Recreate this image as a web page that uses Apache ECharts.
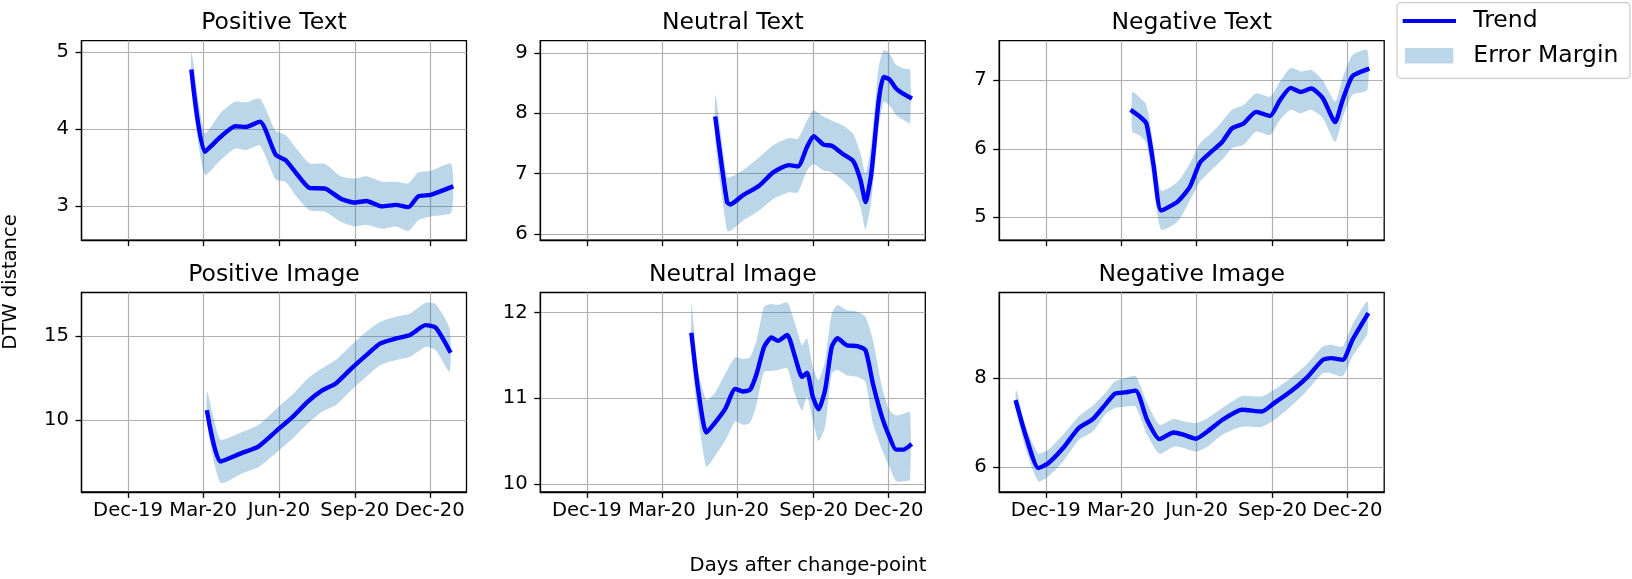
<!DOCTYPE html>
<html>
<head>
<meta charset="utf-8">
<title>DTW distance</title>
<script src="https://cdn.jsdelivr.net/npm/echarts@6/dist/echarts.min.js"></script>
<style>
  html, body { margin: 0; padding: 0; background: #fff; }
  #chart { width: 1632px; height: 579px; }
</style>
</head>
<body>
<div id="chart"></div>
<script>
// shared date axis
var tickDates = ['2019-12-01', '2020-03-01', '2020-06-01', '2020-09-01', '2020-12-01'];
var tickLabels = ['Dec-19', 'Mar-20', 'Jun-20', 'Sep-20', 'Dec-20'];
var panelTitles = ['Positive Text', 'Neutral Text', 'Negative Text', 'Positive Image', 'Neutral Image', 'Negative Image'];

// Positive Text
var posTextDates = ['2020-02-16','2020-03-03','2020-03-22','2020-04-09','2020-04-22','2020-05-09','2020-05-28','2020-06-09','2020-06-22','2020-07-08','2020-07-27','2020-08-15','2020-09-01','2020-09-15','2020-10-04','2020-10-21','2020-11-05','2020-11-17','2020-12-02','2020-12-27'];
var posTextTrend = [4.75,3.71,3.90,4.04,4.03,4.10,3.67,3.60,3.43,3.24,3.23,3.10,3.05,3.07,3.00,3.02,2.99,3.13,3.15,3.25];
var posTextUpper = [5.00,3.95,4.21,4.36,4.35,4.40,3.98,3.93,3.75,3.56,3.55,3.39,3.36,3.39,3.32,3.32,3.30,3.44,3.46,3.55];
var posTextLower = [4.50,3.41,3.60,3.75,3.73,3.79,3.35,3.32,3.13,2.95,2.93,2.80,2.74,2.76,2.71,2.74,2.68,2.82,2.87,2.92];
var posTextTicks = [3, 4, 5];

// Neutral Text
var neuTextDates = ['2020-05-05','2020-05-19','2020-05-23','2020-06-07','2020-06-27','2020-07-14','2020-08-02','2020-08-13','2020-08-24','2020-09-01','2020-09-13','2020-09-23','2020-10-06','2020-10-19','2020-10-28','2020-11-03','2020-11-10','2020-11-19','2020-11-25','2020-12-02','2020-12-10','2020-12-19','2020-12-27'];
var neuTextTrend = [7.91,6.53,6.49,6.64,6.80,7.02,7.14,7.12,7.44,7.62,7.48,7.46,7.33,7.21,6.89,6.53,7.00,8.21,8.60,8.56,8.41,8.32,8.26];
var neuTextUpper = [8.30,6.94,6.94,7.05,7.27,7.47,7.59,7.58,7.88,8.05,7.94,7.88,7.80,7.66,7.33,7.00,7.49,8.77,9.04,8.99,8.80,8.74,8.72];
var neuTextLower = [7.50,6.06,6.05,6.22,6.39,6.58,6.69,6.69,7.05,7.16,7.05,7.02,6.89,6.72,6.44,6.08,6.55,7.77,8.19,8.13,7.97,7.89,7.83];
var neuTextTicks = [6, 7, 8, 9];

// Negative Text
var negTextDates = ['2020-03-15','2020-03-23','2020-04-01','2020-04-10','2020-04-19','2020-05-09','2020-05-24','2020-06-05','2020-06-19','2020-07-02','2020-07-14','2020-07-28','2020-08-12','2020-08-29','2020-09-10','2020-09-23','2020-10-05','2020-10-18','2020-11-01','2020-11-16','2020-11-25','2020-12-07','2020-12-25'];
var negTextTrend = [6.55,6.48,6.37,5.74,5.10,5.23,5.45,5.80,5.96,6.10,6.30,6.37,6.54,6.48,6.71,6.89,6.83,6.88,6.74,6.39,6.71,7.06,7.16];
var negTextUpper = [6.83,6.76,6.64,6.03,5.39,5.52,5.79,6.08,6.23,6.40,6.57,6.64,6.81,6.76,6.98,7.18,7.13,7.15,7.00,6.69,7.03,7.37,7.44];
var negTextLower = [6.25,6.20,6.08,5.45,4.82,4.94,5.25,5.52,5.69,5.84,6.01,6.06,6.25,6.20,6.42,6.57,6.52,6.57,6.45,6.10,6.45,6.79,6.86];
var negTextTicks = [5, 6, 7];

// Positive Image
var posImgDates = ['2020-03-06','2020-03-22','2020-04-16','2020-05-07','2020-05-28','2020-06-18','2020-07-06','2020-07-23','2020-08-09','2020-08-28','2020-09-15','2020-10-02','2020-10-21','2020-11-07','2020-11-26','2020-12-08','2020-12-25'];
var posImgTrend = [10.47,7.55,8.04,8.44,9.33,10.22,11.11,11.76,12.19,13.08,13.87,14.57,14.86,15.06,15.65,15.51,14.13];
var posImgUpper = [11.70,8.87,9.27,9.72,10.65,11.56,12.49,13.08,13.58,14.47,15.26,15.85,16.15,16.34,16.98,16.90,15.45];
var posImgLower = [9.80,6.30,6.82,7.21,8.04,8.93,9.82,10.51,10.91,11.80,12.59,13.28,13.58,13.77,14.37,14.17,12.89];
var posImgTicks = [10, 15];

// Neutral Image
var neuImgDates = ['2020-04-06','2020-04-14','2020-04-24','2020-05-04','2020-05-17','2020-05-29','2020-06-07','2020-06-16','2020-06-24','2020-07-03','2020-07-12','2020-07-20','2020-07-31','2020-08-09','2020-08-18','2020-08-24','2020-08-31','2020-09-07','2020-09-15','2020-09-23','2020-09-30','2020-10-11','2020-10-24','2020-11-03','2020-11-12','2020-11-23','2020-12-02','2020-12-10','2020-12-19','2020-12-27'];
var neuImgTrend = [11.74,11.10,10.60,10.71,10.88,11.11,11.08,11.10,11.29,11.60,11.71,11.67,11.74,11.50,11.25,11.30,11.02,10.87,11.10,11.60,11.70,11.62,11.61,11.56,11.17,10.78,10.55,10.40,10.40,10.45];
var neuImgUpper = [12.10,11.33,10.98,11.06,11.29,11.48,11.46,11.48,11.68,12.07,12.10,12.09,12.12,11.89,11.62,11.70,11.37,11.21,11.44,11.99,12.09,12.03,12.01,11.95,11.68,11.13,10.86,10.80,10.82,10.84];
var neuImgLower = [11.50,10.78,10.20,10.32,10.51,10.73,10.69,10.71,10.94,11.31,11.32,11.33,11.35,11.06,10.86,11.02,10.75,10.50,10.67,11.29,11.33,11.27,11.25,11.19,10.71,10.40,10.20,10.03,10.03,10.05];
var neuImgTicks = [10, 11, 12];

// Negative Image
var negImgDates = ['2019-10-26','2019-11-07','2019-11-22','2019-12-04','2019-12-22','2020-01-10','2020-01-27','2020-02-11','2020-02-23','2020-03-06','2020-03-19','2020-04-02','2020-04-17','2020-05-04','2020-05-16','2020-05-31','2020-06-14','2020-07-02','2020-07-26','2020-08-19','2020-09-03','2020-09-23','2020-10-12','2020-11-01','2020-11-11','2020-11-25','2020-12-07','2020-12-25'];
var negImgTrend = [7.46,6.69,5.98,6.09,6.43,6.88,7.08,7.40,7.65,7.68,7.72,7.06,6.63,6.78,6.73,6.64,6.80,7.06,7.29,7.25,7.44,7.70,8.00,8.41,8.45,8.41,8.86,9.42];
var negImgUpper = [7.74,6.91,6.31,6.39,6.73,7.14,7.38,7.66,7.93,8.00,8.04,7.44,6.95,7.08,7.03,6.99,7.10,7.33,7.60,7.59,7.74,8.00,8.30,8.71,8.75,8.71,9.20,9.72];
var negImgLower = [7.29,6.39,5.68,5.79,6.13,6.61,6.80,7.18,7.33,7.36,7.36,6.73,6.30,6.46,6.43,6.35,6.46,6.73,6.91,6.91,7.06,7.36,7.70,8.11,8.11,8.04,8.49,9.01];
var negImgTicks = [6, 8];

var FONT = 'DejaVu Sans';
var BLUE = '#0000ff';
var BAND = 'rgba(31,119,180,0.3)';
var SMOOTH = 0.2;

// x is counted in days from Dec-19
var ORIGIN = Date.parse('2019-12-01');
function dayOf(d) { return (Date.parse(d) - ORIGIN) / 864e5; }
var tickDays = tickDates.map(dayOf);
var X_MIN = -56.5, X_MAX = 410.5;

var panels = [
    {dates: posTextDates, trend: posTextTrend, upper: posTextUpper, lower: posTextLower, ticks: posTextTicks, yMin: 2.562, yMax: 5.151},
    {dates: neuTextDates, trend: neuTextTrend, upper: neuTextUpper, lower: neuTextLower, ticks: neuTextTicks, yMin: 5.90, yMax: 9.20},
    {dates: negTextDates, trend: negTextTrend, upper: negTextUpper, lower: negTextLower, ticks: negTextTicks, yMin: 4.668, yMax: 7.578},
    {dates: posImgDates, trend: posImgTrend, upper: posImgUpper, lower: posImgLower, ticks: posImgTicks, yMin: 5.75, yMax: 17.59},
    {dates: neuImgDates, trend: neuImgTrend, upper: neuImgUpper, lower: neuImgLower, ticks: neuImgTicks, yMin: 9.907, yMax: 12.235},
    {dates: negImgDates, trend: negImgTrend, upper: negImgUpper, lower: negImgLower, ticks: negImgTicks, yMin: 5.445, yMax: 9.924}
];

// layout of the 2x3 subplots
var colLeft = [81.5, 540.3, 999.2];
var rowTop = [40.7, 292.5];
var plotW = 385, plotH = 199.4;

function xLabel(v) {
    for (var k = 0; k < tickDays.length; k++) {
        if (Math.abs(tickDays[k] - v) < 0.5) return tickLabels[k];
    }
    return '';
}

// band drawn as one polygon: upper edge then lower edge backwards
function renderBand(params, api) {
    if (params.dataIndexInside !== 0) return;
    var n = params.dataInsideLength;
    var top = [], bottom = [];
    for (var k = 0; k < n; k++) {
        top.push(api.coord([api.value(0, k), api.value(2, k)]));
        bottom.push(api.coord([api.value(0, k), api.value(1, k)]));
    }
    return {
        type: 'polygon',
        shape: {points: top.concat(bottom.reverse()), smooth: SMOOTH},
        style: {fill: BAND}
    };
}

var grids = [], xAxes = [], yAxes = [], series = [], graphics = [];
var axisColor = {color: '#000', width: 1.3};
var gridLine = {color: '#b0b0b0', width: 1.2};

panels.forEach(function (p, i) {
    var row = Math.floor(i / 3), col = i % 3;
    grids.push({
        left: colLeft[col], top: rowTop[row], width: plotW, height: plotH,
        show: true, borderColor: '#000', borderWidth: 1.3, backgroundColor: 'transparent',
        containLabel: false, outerBoundsMode: 'none'
    });
    xAxes.push({
        type: 'value', gridIndex: i, min: X_MIN, max: X_MAX,
        axisLine: {show: true, onZero: false, lineStyle: axisColor},
        axisTick: {show: true, length: 6, customValues: tickDays, lineStyle: axisColor},
        axisLabel: {
            show: row === 1, customValues: tickDays, margin: 9,
            color: '#000', fontSize: 19.6, fontFamily: FONT, formatter: xLabel
        },
        splitLine: {show: true, lineStyle: gridLine}
    });
    yAxes.push({
        type: 'value', gridIndex: i, min: p.yMin, max: p.yMax,
        axisLine: {show: true, onZero: false, lineStyle: axisColor},
        axisTick: {show: true, length: 6, customValues: p.ticks, lineStyle: axisColor},
        axisLabel: {customValues: p.ticks, margin: 12.5, color: '#000', fontSize: 19.6, fontFamily: FONT},
        splitLine: {show: true, lineStyle: gridLine}
    });

    var xs = p.dates.map(dayOf);
    series.push({
        name: 'Error Margin', type: 'custom', xAxisIndex: i, yAxisIndex: i,
        data: xs.map(function (x, k) { return [x, p.lower[k], p.upper[k]]; }),
        encode: {x: 0, y: [1, 2]},
        itemStyle: {color: BAND, borderWidth: 0},
        renderItem: renderBand, silent: true, z: 1
    });
    series.push({
        name: 'Trend', type: 'line', xAxisIndex: i, yAxisIndex: i,
        data: xs.map(function (x, k) { return [x, p.trend[k]]; }),
        smooth: SMOOTH, symbol: 'none', silent: true, z: 3,
        lineStyle: {color: BLUE, width: 4.4, cap: 'square'},
        itemStyle: {color: BLUE}
    });

    graphics.push({
        type: 'text', x: colLeft[col] + plotW / 2, y: row === 0 ? 22.5 : 274.5,
        style: {text: panelTitles[i], font: '23.5px "' + FONT + '"', fill: '#000', align: 'center', verticalAlign: 'middle'}
    });
});

// shared axis names
graphics.push({
    type: 'text', x: 11, y: 282, rotation: Math.PI / 2,
    style: {text: 'DTW distance', font: '19.6px "' + FONT + '"', fill: '#000', align: 'center', verticalAlign: 'middle'}
});
graphics.push({
    type: 'text', x: 808, y: 566,
    style: {text: 'Days after change-point', font: '19.6px "' + FONT + '"', fill: '#000', align: 'center', verticalAlign: 'middle'}
});
// legend frame
graphics.push({
    type: 'rect', z: 1,
    shape: {x: 1397, y: 2.7, width: 233, height: 75.6, r: 4},
    style: {fill: 'rgba(255,255,255,0.8)', stroke: '#cccccc', lineWidth: 1.3}
});

var chart = echarts.init(document.getElementById('chart'), null, {renderer: 'canvas'});
chart.setOption({
    animation: false,
    backgroundColor: '#fff',
    textStyle: {fontFamily: FONT},
    grid: grids,
    xAxis: xAxes,
    yAxis: yAxes,
    legend: [
        {
            data: [{name: 'Trend', icon: 'rect', itemStyle: {color: BLUE, borderWidth: 0}}],
            left: 1402.7, top: 9, padding: 0, itemWidth: 53.3, itemHeight: 4.2, selectedMode: false, z: 5,
            textStyle: {fontSize: 23.5, fontFamily: FONT, color: '#000', padding: [0, 0, 0, 12.3]}
        },
        {
            data: [{name: 'Error Margin', icon: 'rect', itemStyle: {color: BAND, borderWidth: 0}}],
            left: 1405, top: 43.7, padding: 0, itemWidth: 48.3, itemHeight: 15.6, selectedMode: false, z: 5,
            textStyle: {fontSize: 23.5, fontFamily: FONT, color: '#000', padding: [0, 0, 0, 15]}
        }
    ],
    graphic: graphics,
    series: series
});
</script>
</body>
</html>
